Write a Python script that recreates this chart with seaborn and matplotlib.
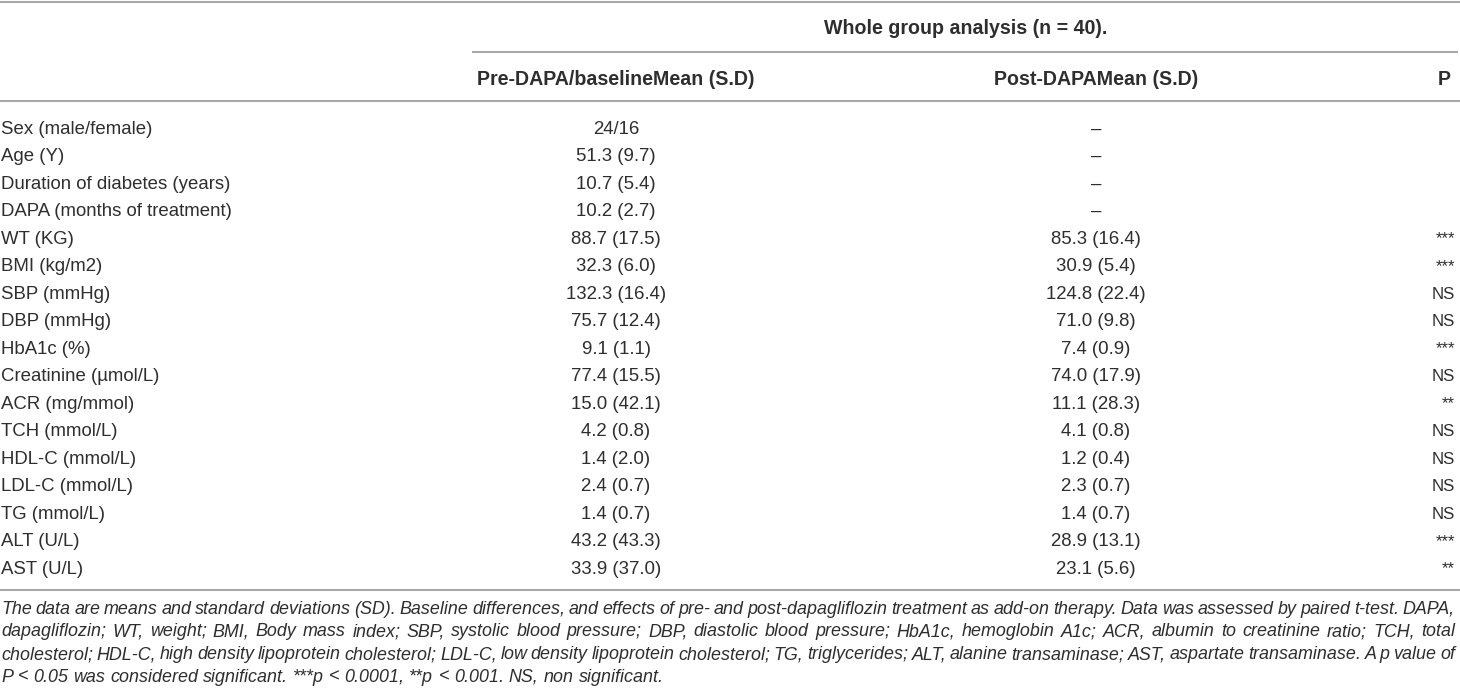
import matplotlib
matplotlib.use("Agg")
import matplotlib.pyplot as plt
import seaborn as sns
import numpy as np

# table content
row_labels = ["Sex (male/female)", "Age (Y)", "Duration of diabetes (years)",
              "DAPA (months of treatment)", "WT (KG)", "BMI (kg/m2)", "SBP (mmHg)",
              "DBP (mmHg)", "HbA1c (%)", "Creatinine (µmol/L)", "ACR (mg/mmol)",
              "TCH (mmol/L)", "HDL-C (mmol/L)", "LDL-C (mmol/L)", "TG (mmol/L)",
              "ALT (U/L)", "AST (U/L)"]
pre_values = ["24/16", "51.3 (9.7)", "10.7 (5.4)", "10.2 (2.7)", "88.7 (17.5)",
              "32.3 (6.0)", "132.3 (16.4)", "75.7 (12.4)", "9.1 (1.1)", "77.4 (15.5)",
              "15.0 (42.1)", "4.2 (0.8)", "1.4 (2.0)", "2.4 (0.7)", "1.4 (0.7)",
              "43.2 (43.3)", "33.9 (37.0)"]
post_values = ["–", "–", "–", "–", "85.3 (16.4)", "30.9 (5.4)", "124.8 (22.4)",
               "71.0 (9.8)", "7.4 (0.9)", "74.0 (17.9)", "11.1 (28.3)", "4.1 (0.8)",
               "1.2 (0.4)", "2.3 (0.7)", "1.4 (0.7)", "28.9 (13.1)", "23.1 (5.6)"]
p_values = ["", "", "", "", "***", "***", "NS", "NS", "***", "NS", "**", "NS",
            "NS", "NS", "NS", "***", "**"]

group_title = "Whole group analysis (n = 40)."
col_headers = ["Pre-DAPA/baselineMean (S.D)", "Post-DAPAMean (S.D)", "P"]

footnote_lines = [
    "The data are means and standard deviations (SD). Baseline differences, and effects of pre- and post-dapagliflozin treatment as add-on therapy. Data was assessed by paired t-test. DAPA,",
    "dapagliflozin; WT, weight; BMI, Body mass index; SBP, systolic blood pressure; DBP, diastolic blood pressure; HbA1c, hemoglobin A1c; ACR, albumin to creatinine ratio; TCH, total",
    "cholesterol; HDL-C, high density lipoprotein cholesterol; LDL-C, low density lipoprotein cholesterol; TG, triglycerides; ALT, alanine transaminase; AST, aspartate transaminase. A p value of",
    "P < 0.05 was considered significant. ***p < 0.0001, **p < 0.001. NS, non significant.",
]

sns.set_theme(style="white")
plt.rcParams["font.family"] = ["Liberation Sans", "DejaVu Sans"]

W, H = 1460, 698
fig = plt.figure(figsize=(W / 100, H / 100), dpi=100)
ax = fig.add_axes([0, 0, 1, 1])
ax.set_xlim(0, W)
ax.set_ylim(H, 0)
ax.axis("off")

PT = 0.72  # points per pixel at 100 dpi
txt_color = "#2e2e2e"
line_color = "#a8a8a8"
body_size = 18.7 * PT
head_size = 19.6 * PT

x_label, x_pre, x_post, x_p = 1, 616, 1096, 1455
off = 6.6  # baseline below visual centre

# rules
ax.hlines(1.5, 0, W, color=line_color, lw=1.5)
ax.hlines(51.5, 472, 1458, color=line_color, lw=1.5)
ax.hlines(100.5, 0, W, color=line_color, lw=1.5)
ax.hlines(589.5, 0, W, color=line_color, lw=1.5)

# headers
ax.text(966, 27 + off, group_title, ha="center", va="baseline",
        fontsize=head_size, weight="bold", color=txt_color)
ax.text(x_pre, 78 + off, col_headers[0], ha="center", va="baseline",
        fontsize=head_size, weight="bold", color=txt_color)
ax.text(x_post, 78 + off, col_headers[1], ha="center", va="baseline",
        fontsize=head_size, weight="bold", color=txt_color)
ax.text(1451, 78 + off, col_headers[2], ha="right", va="baseline",
        fontsize=head_size, weight="bold", color=txt_color)

# body rows
row_y = 127 + 27.5 * np.arange(len(row_labels))
for lab, pre, post, p, y in zip(row_labels, pre_values, post_values, p_values, row_y):
    ax.text(x_label, y + off, lab, ha="left", va="baseline", fontsize=body_size, color=txt_color)
    ax.text(x_pre, y + off, pre, ha="center", va="baseline", fontsize=body_size, color=txt_color)
    ax.text(x_post, y + off, post, ha="center", va="baseline", fontsize=body_size, color=txt_color)
    ax.text(x_p, y + off, p, ha="right", va="baseline", fontsize=body_size * 0.9, color=txt_color)

# footnote, justified to the table width
renderer = fig.canvas.get_renderer()


def width_of(s, size):
    t = ax.text(0, 0, s, fontsize=size, style="italic")
    w = t.get_window_extent(renderer).width
    t.remove()
    return w


left, right = 1, 1455
target = right - left
base = 13.0
space = width_of("a a", base) - width_of("aa", base)
scale = 1.0
for line in footnote_lines[:-1]:
    words = line.split(" ")
    wsum = sum(width_of(w, base) for w in words)
    need = wsum + (len(words) - 1) * space * 0.8
    scale = min(scale, target / need)
foot_size = base * scale

foot_y = 607 + 22.7 * np.arange(len(footnote_lines))
for i, (line, y) in enumerate(zip(footnote_lines, foot_y)):
    words = line.split(" ")
    widths = [width_of(w, foot_size) for w in words]
    if i < len(footnote_lines) - 1:
        gap = (target - sum(widths)) / (len(words) - 1)
    else:
        gap = space * scale
    x = left
    for w, wd in zip(words, widths):
        ax.text(x, y + off, w, ha="left", va="baseline", fontsize=foot_size,
                style="italic", color=txt_color)
        x += wd + gap

fig.savefig("out.png", dpi=100)
